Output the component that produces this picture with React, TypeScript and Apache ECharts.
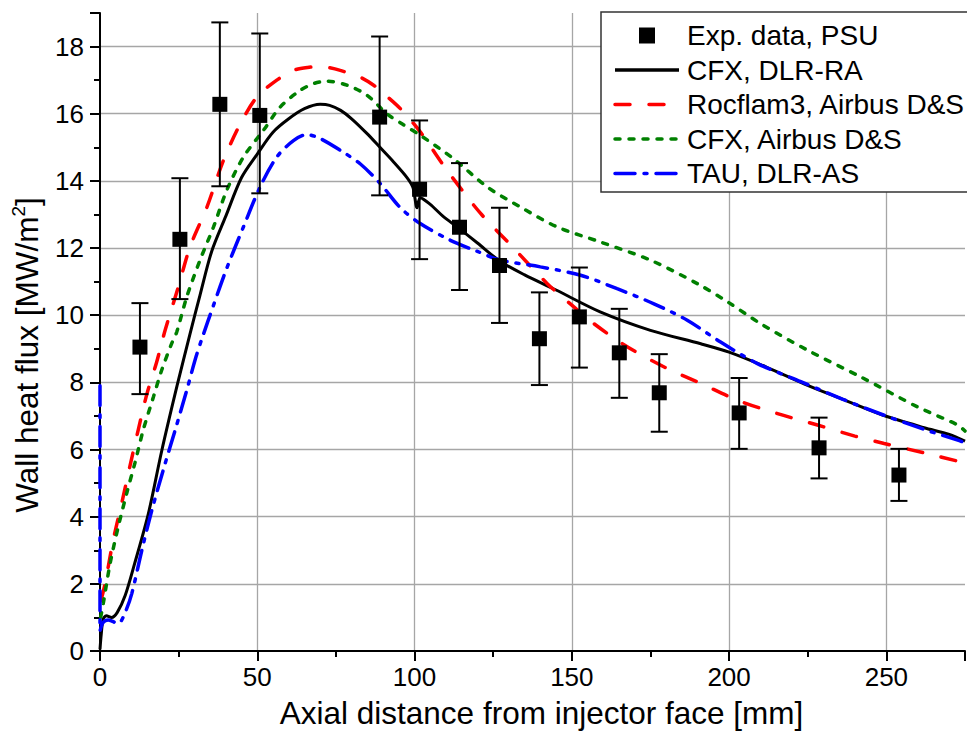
import React, { useEffect, useRef } from "react";
import * as echarts from "echarts";

// Experimental data (PSU)
const xExp = [12.7, 25.4, 38.1, 50.8, 88.9, 101.6, 114.3, 127, 139.7, 152.4, 165.1, 177.8, 203.2, 228.6, 254];
const yExp = [9.05, 12.26, 16.28, 15.95, 15.9, 13.75, 12.62, 11.48, 9.3, 9.95, 8.88, 7.69, 7.09, 6.05, 5.24];
const errHigh = [10.36, 14.08, 18.72, 18.39, 18.3, 15.8, 14.53, 13.2, 10.68, 11.42, 10.19, 8.84, 8.13, 6.95, 6.02];
const errLow = [7.65, 10.48, 13.84, 13.63, 13.57, 11.67, 10.75, 9.77, 7.92, 8.44, 7.54, 6.53, 6.02, 5.14, 4.47];

// CFX, DLR-RA
const cfxDlr: number[][] = [
  [0, 0.05], [0.4, 0.5], [1.0, 0.95], [2, 1.05], [3.7, 1.0], [5.5, 1.15], [8, 1.65], [11, 2.6],
  [15.4, 4.1], [19.6, 5.95], [24.5, 7.9], [28.5, 9.4], [31.8, 10.6], [35.5, 11.9], [40, 12.95],
  [45, 14.1], [50, 14.8], [55, 15.45], [60, 15.85], [65, 16.15], [70, 16.28], [73, 16.25],
  [76.5, 16.1], [80, 15.85], [85, 15.4], [89, 15.0], [93, 14.6], [97.6, 14.1], [99.5, 13.8],
  [100.8, 13.2], [101.8, 13.5], [105, 13.3], [109, 12.95], [113.5, 12.63], [120, 12.15],
  [127.3, 11.6], [135, 11.2], [145, 10.75], [159, 10.1], [175, 9.55], [191, 9.15], [200, 8.9],
  [212, 8.45], [224, 7.95], [236, 7.5], [249, 7.02], [262, 6.65], [270, 6.45], [275, 6.25],
];

// Rocflam3, Airbus D&S
const rocflam: number[][] = [
  [0.3, 1.5], [1.6, 2.0], [4.2, 3.3], [6.9, 4.4], [9.5, 5.5], [12.2, 6.6], [14.9, 7.65], [18, 8.6],
  [20.7, 9.55], [24.9, 10.84], [28.6, 12.03], [34, 13.22], [39.2, 14.6], [44.6, 15.7], [49.9, 16.5],
  [56.2, 17.0], [61.5, 17.29], [66, 17.38], [70, 17.4], [73, 17.37], [76.4, 17.29], [82.7, 17.09],
  [87, 16.85], [90.2, 16.6], [95.5, 16.15], [101.8, 15.46], [110.3, 14.32], [121, 13.03],
  [130.5, 12.1], [142.2, 10.94], [150, 10.3], [157, 9.75], [167.6, 9.06], [180.4, 8.41], [191, 7.97],
  [202.6, 7.47], [215.4, 7.07], [228.1, 6.73], [240, 6.4], [249.3, 6.18], [262, 5.9], [275, 5.6],
];

// CFX, Airbus D&S
const cfxAirbus: number[][] = [
  [0.2, 1.0], [1.05, 1.42], [3.2, 2.6], [5.8, 3.7], [8.5, 4.7], [11.1, 5.6], [13.8, 6.6], [17, 7.57],
  [19.6, 8.36], [22.8, 9.16], [24.4, 9.5], [27.6, 10.55], [31.8, 11.64], [36.1, 12.63], [40.3, 13.72],
  [45.6, 14.71], [52, 15.51], [57.3, 16.2], [63.7, 16.7], [68, 16.9], [72.1, 16.97], [78.5, 16.85],
  [84.9, 16.55], [91.2, 16.0], [96, 15.7], [101.8, 15.36], [112.4, 14.66], [123.1, 13.82],
  [133.7, 13.22], [145.3, 12.63], [159.1, 12.18], [175, 11.64], [189.9, 10.94], [199.5, 10.4],
  [210, 9.75], [224.9, 8.96], [241.9, 8.16], [259.9, 7.27], [272.7, 6.73], [275, 6.55],
];

// TAU, DLR-AS
const tau: number[][] = [
  [0, 7.9], [0, 0.6], [1, 0.85], [2.6, 0.92], [5.8, 0.82], [8, 1.15], [10.1, 1.71], [13.3, 3.0],
  [16.5, 4.2], [20.7, 5.58], [23.9, 6.58], [27.6, 7.77], [30.2, 8.66], [32.4, 9.3], [36.1, 10.3],
  [40.3, 11.4], [45.6, 12.63], [50.9, 13.82], [56.2, 14.71], [61.5, 15.2], [65.8, 15.38], [70, 15.26],
  [76.4, 14.91], [82.7, 14.51], [89.1, 13.92], [95.5, 13.2], [101.8, 12.73], [111.4, 12.23],
  [120, 11.9], [127.3, 11.64], [140, 11.44], [152.8, 11.19], [164.4, 10.79], [176.1, 10.34],
  [186.7, 9.85], [197.3, 9.2], [209, 8.56], [222.8, 8.02], [236, 7.5], [249.3, 7.02], [262, 6.6],
  [272.7, 6.28], [275, 6.2],
];

const legendNames = ["Exp. data, PSU", "CFX, DLR-RA", "Rocflam3, Airbus D&S", "CFX, Airbus D&S", "TAU, DLR-AS"];

const FONT = "'Liberation Sans', Arial, sans-serif";
const RED_DASH = [15, 19];
const GREEN_DASH = [5, 9];
const BLUE_DASH = [20, 9, 3, 9];

export default function App() {
  const ref = useRef<HTMLDivElement>(null);
  useEffect(() => {
    if (!ref.current) return;
    const chart = echarts.init(ref.current, undefined, { renderer: "svg" });
    const expData = xExp.map((x, i) => [x, yExp[i]]);
    const errData = xExp.map((x, i) => [x, errLow[i], errHigh[i]]);

    const titleSize = 31.5;
    const supSize = 19;

    const lgX = 601, lgY = 12, rowH = 34.5, row0 = 35.5;
    const lineStyles = [
      { stroke: "#000", lineDash: null as any },
      { stroke: "#ff0000", lineDash: RED_DASH },
      { stroke: "#008000", lineDash: GREEN_DASH },
      { stroke: "#0000ff", lineDash: BLUE_DASH },
    ];
    const graphics: any[] = [
      {
        type: "rect",
        shape: { x: lgX, y: lgY, width: 420, height: 180 },
        style: { fill: "#fff", stroke: "#333", lineWidth: 1.5 },
        z: 100,
      },
      {
        type: "rect",
        shape: { x: 639, y: row0 - 8, width: 16, height: 16 },
        style: { fill: "#000" },
        z: 101,
      },
    ];
    legendNames.forEach((name, i) => {
      graphics.push({
        type: "text",
        x: 687,
        y: row0 + i * rowH,
        style: { text: name, font: `28px ${FONT}`, fill: "#000", verticalAlign: "middle", align: "left" },
        z: 101,
      });
    });
    lineStyles.forEach((ls, i) => {
      const y = row0 + (i + 1) * rowH;
      graphics.push({
        type: "line",
        shape: { x1: 615, y1: y, x2: 679, y2: y },
        style: { stroke: ls.stroke, lineWidth: 3.5, lineDash: ls.lineDash, lineCap: i === 0 ? "butt" : "round" },
        z: 101,
      });
    });

    const lineSeries = (name: string, data: number[][], color: string, dash: any, width = 3.5) => ({
      name,
      type: "line",
      data,
      symbol: "none",
      smooth: 0.3,
      clip: false,
      z: 3,
      lineStyle: { color, width, type: dash, cap: dash === "solid" ? "butt" : "round" },
    });

    chart.setOption({
      animation: false,
      backgroundColor: "#fff",
      textStyle: { fontFamily: FONT },
      grid: { left: 100, right: 2, top: 13, bottom: 83, containLabel: false },
      xAxis: {
        type: "value",
        min: 0,
        max: 275,
        interval: 50,
        name: "Axial distance from injector face [mm]",
        nameLocation: "middle",
        nameGap: 46,
        nameTextStyle: { fontSize: titleSize, color: "#000", fontFamily: FONT, padding: [0, 0, 0, 18] },
        axisLine: { show: true, onZero: false, lineStyle: { color: "#000", width: 2 } },
        axisTick: { show: true, length: 10, lineStyle: { color: "#000", width: 2 } },
        minorTick: { show: true, splitNumber: 2, length: 6, lineStyle: { color: "#000", width: 2 } },
        axisLabel: { fontSize: 26, color: "#000", margin: 13, showMaxLabel: false, fontFamily: FONT },
        splitLine: { show: true, showMinLine: false, showMaxLine: false, lineStyle: { color: "#a6a6a6", width: 1.3 } },
      },
      yAxis: {
        type: "value",
        min: 0,
        max: 19,
        interval: 2,
        name: "Wall heat flux [MW/m{sup|2}]",
        nameLocation: "middle",
        nameGap: 56,
        nameTextStyle: {
          fontSize: titleSize,
          color: "#000",
          fontFamily: FONT,
          padding: [0, 46, 0, 0],
          rich: {
            sup: { fontSize: supSize, verticalAlign: "top", color: "#000", fontFamily: FONT, padding: [0, 0, 16, 0] },
          },
        },
        axisLine: { show: true, onZero: false, lineStyle: { color: "#000", width: 2 } },
        axisTick: { show: true, length: 10, lineStyle: { color: "#000", width: 2 } },
        minorTick: { show: true, splitNumber: 2, length: 6, lineStyle: { color: "#000", width: 2 } },
        axisLabel: { fontSize: 26, color: "#000", margin: 16, showMaxLabel: false, fontFamily: FONT },
        splitLine: { show: true, showMinLine: false, showMaxLine: false, lineStyle: { color: "#a6a6a6", width: 1.3 } },
      },
      legend: { show: false },
      graphic: graphics,
      series: [
        {
          name: "errors",
          type: "custom",
          data: errData,
          encode: { x: 0, y: [1, 2] },
          z: 4,
          renderItem: (params: any, api: any) => {
            const x = api.value(0);
            const lo = api.value(1);
            const hi = api.value(2);
            const p1 = api.coord([x, hi]);
            const p2 = api.coord([x, lo]);
            const w = 8.5;
            const st = { stroke: "#000", lineWidth: 2 };
            return {
              type: "group",
              children: [
                { type: "line", shape: { x1: p1[0], y1: p1[1], x2: p2[0], y2: p2[1] }, style: st },
                { type: "line", shape: { x1: p1[0] - w, y1: p1[1], x2: p1[0] + w, y2: p1[1] }, style: st },
                { type: "line", shape: { x1: p2[0] - w, y1: p2[1], x2: p2[0] + w, y2: p2[1] }, style: st },
              ],
            };
          },
        },
        lineSeries(legendNames[1], cfxDlr, "#000", "solid", 3),
        lineSeries(legendNames[2], rocflam, "#ff0000", RED_DASH),
        lineSeries(legendNames[3], cfxAirbus, "#008000", GREEN_DASH),
        lineSeries(legendNames[4], tau, "#0000ff", BLUE_DASH),
        {
          name: legendNames[0],
          type: "scatter",
          data: expData,
          symbol: "rect",
          symbolSize: 15,
          itemStyle: { color: "#000", opacity: 1 },
          z: 5,
        },
      ],
    });
    return () => chart.dispose();
  }, []);
  return (
    <div
      ref={ref}
      style={{ position: "fixed", left: 0, top: 0, width: 967, height: 734, overflow: "hidden", background: "#fff" }}
    />
  );
}
